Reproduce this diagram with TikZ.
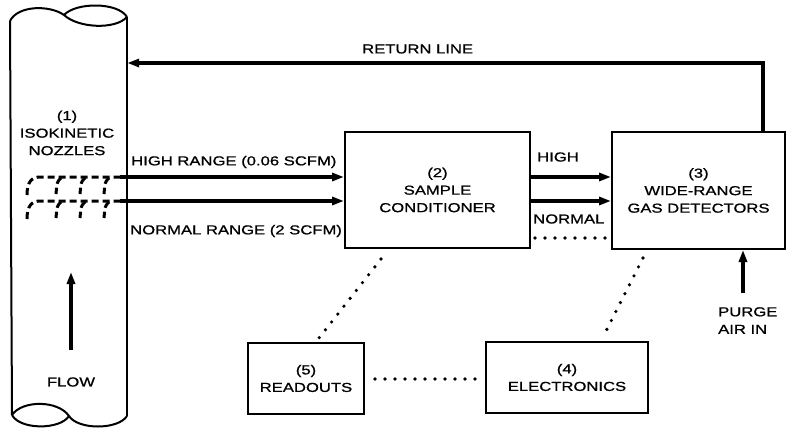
\documentclass[tikz,border=0pt]{standalone}
\usepackage{fontspec}
\setmainfont{Liberation Sans}[FakeStretch=1.28, FakeBold=1]
\usetikzlibrary{arrows.meta}
\tikzset{
  every node/.style={font=\fontsize{13}{17.5}\selectfont, inner sep=0pt},
  boxnode/.style={draw, line width=2pt, align=center},
  flowline/.style={line width=3.2pt, -{Triangle[length=12pt,width=8pt]}},
  nozzle/.style={line width=3pt, dash pattern=on 7pt off 4pt},
  dotline/.style={line width=3.6pt, line cap=round, dash pattern=on 0pt off 10pt},
  pipeline/.style={line width=2pt},
  lbl/.style={anchor=west}
}
\begin{document}
\begin{tikzpicture}[x=1pt,y=-1pt]
\useasboundingbox (0,0) rectangle (788,432);
% pipe
\node (pipe) [minimum width=117pt, minimum height=398pt] at (68.5,218) {};
\draw[pipeline] (10,21) -- (12,415);
\draw[pipeline] (127,17) -- (127,416);
\draw[pipeline] (10,21) .. controls (18,5) and (50,5) .. (64,15) .. controls (78,28) and (115,30) .. (127,17);
\draw[pipeline] (64,15) .. controls (76,2) and (118,2) .. (127,17);
\draw[pipeline] (12,415) .. controls (22,400) and (58,400) .. (69,416) .. controls (78,430) and (118,430) .. (127,416);
\draw[pipeline] (12,415) .. controls (20,430) and (60,430) .. (69,416);
\node (lbl1) [align=center] at (67,133) {(1)\\ISOKINETIC\\NOZZLES};
\coordinate (flowA) at (71,350);
\coordinate (flowB) at (71,272);
\draw[flowline] (flowA) -- (flowB);
\node (flow) at (71,382) {FLOW};
% nozzles
\coordinate (nzH) at (120,177);
\coordinate (nzN) at (120,201);
\foreach \y in {177,201}{
  \draw[nozzle] (27,\y+18) .. controls (27,\y+6) and (31,\y) .. (40,\y) -- (120,\y);
  \draw[nozzle] (61,\y+1) .. controls (57,\y+5) .. (56,\y+17);
  \draw[nozzle] (85,\y+1) .. controls (81,\y+5) .. (80,\y+17);
  \draw[nozzle] (109,\y+1) .. controls (105,\y+5) .. (104,\y+17);
}
% boxes
\node (box2) [boxnode, minimum width=185pt, minimum height=116pt] at (437.5,190) {(2)\\SAMPLE\\CONDITIONER};
\node (box3) [boxnode, minimum width=173pt, minimum height=117pt] at (698.5,190.5) {(3)\\WIDE-RANGE\\GAS DETECTORS};
\node (box5) [boxnode, minimum width=116pt, minimum height=71pt] at (306,378.5) {(5)\\READOUTS};
\node (box4) [boxnode, minimum width=162pt, minimum height=71pt] at (567,377.5) {(4)\\ELECTRONICS};
% flows
\draw[flowline] (nzH) -- (nzH -| box2.west);
\draw[flowline] (nzN) -- (nzN -| box2.west);
\draw[flowline] (nzH -| box2.east) -- (nzH -| box3.west);
\draw[flowline] (nzN -| box2.east) -- (nzN -| box3.west);
\node (hr) [lbl] at (131,162) {HIGH RANGE (0.06 SCFM)};
\node (nr) [lbl] at (130,231) {NORMAL RANGE (2 SCFM)};
\node (hi) [lbl] at (537,157) {HIGH};
\node (no) [lbl] at (533,219) {NORMAL};
% return line
\coordinate (ret) at (763,63);
\draw[flowline] (ret |- box3.north) -- (ret) -- (ret -| pipe.east);
\node (rl) [lbl] at (362,49) {RETURN LINE};
% purge
\coordinate (purge) at (743,293);
\draw[flowline] (purge) -- (purge |- box3.south);
\node (pa) [anchor=north west, align=left] at (718,307) {PURGE\\AIR IN};
% dotted links
\coordinate (d23) at (535,238);
\draw[dotline] (d23) -- (d23 -| box3.west);
\coordinate (d2a) at (381,259);
\coordinate (d5a) at (319,338);
\draw[dotline] (d2a) -- (d5a);
\coordinate (d3a) at (643,258);
\coordinate (d4a) at (603,337);
\draw[dotline] (d3a) -- (d4a);
\coordinate (d54) at (375,379);
\draw[dotline] (d54) -- (d54 -| 478,0);
\end{tikzpicture}
\end{document}
